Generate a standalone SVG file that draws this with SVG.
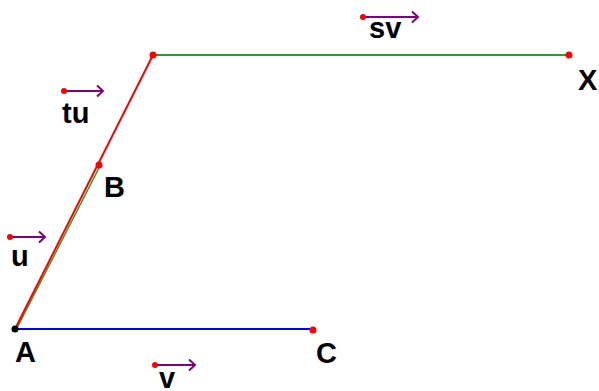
<svg xmlns="http://www.w3.org/2000/svg" width="599" height="391" viewBox="0 0 599 391">
<style>
text{font-family:"Liberation Sans",Arial,sans-serif;font-weight:bold;font-size:29px;fill:#000}
.pt{fill:#ff0000}
.vec{stroke:#800080;stroke-width:2;fill:none}
.seg{stroke-width:2;fill:none}
</style>
<defs>
<marker id="chev" markerWidth="12" markerHeight="14" refX="9" refY="7" orient="auto" markerUnits="userSpaceOnUse">
<path d="M3,1.5 L9,7 L3,12.5" stroke="#800080" stroke-width="2" fill="none"/>
</marker>
</defs>
<rect width="599" height="391" fill="#fff"/>
<g id="connectors">
<line x1="16.5" y1="329" x2="100" y2="166" stroke="#22a022" stroke-width="1.5"/>
<line class="seg" x1="15" y1="329" x2="153" y2="55" stroke="#ff0000"/>
<line class="seg" x1="15" y1="329" x2="313" y2="329" stroke="#0000ff"/>
<line class="seg" x1="153" y1="55" x2="569" y2="55" stroke="#22a022"/>
</g>
<g id="node-A"><circle cx="15" cy="329" r="3.5" fill="#000"/><text x="15" y="362">A</text></g>
<g id="node-B"><circle class="pt" cx="99" cy="165" r="3.5"/><text x="104" y="197">B</text></g>
<g id="node-C"><circle class="pt" cx="313" cy="330" r="3.5"/><text x="316" y="363">C</text></g>
<g id="node-P"><circle class="pt" cx="153" cy="55" r="3.5"/></g>
<g id="node-X"><circle class="pt" cx="569" cy="55" r="3.5"/><text x="578" y="90">X</text></g>
<g id="vec-sv"><line class="vec" x1="363" y1="17" x2="418" y2="17" marker-end="url(#chev)"/><circle class="pt" cx="363" cy="17" r="3"/><text x="369" y="38">sv</text></g>
<g id="vec-tu"><line class="vec" x1="64" y1="91" x2="103" y2="91" marker-end="url(#chev)"/><circle class="pt" cx="64" cy="91" r="3"/><text x="62" y="123">tu</text></g>
<g id="vec-u"><line class="vec" x1="10" y1="237" x2="45" y2="237" marker-end="url(#chev)"/><circle class="pt" cx="10" cy="237" r="3"/><text x="11" y="266">u</text></g>
<g id="vec-v"><line class="vec" x1="155" y1="365" x2="195" y2="365" marker-end="url(#chev)"/><circle class="pt" cx="155" cy="365" r="3"/><text x="159" y="388">v</text></g>
</svg>
